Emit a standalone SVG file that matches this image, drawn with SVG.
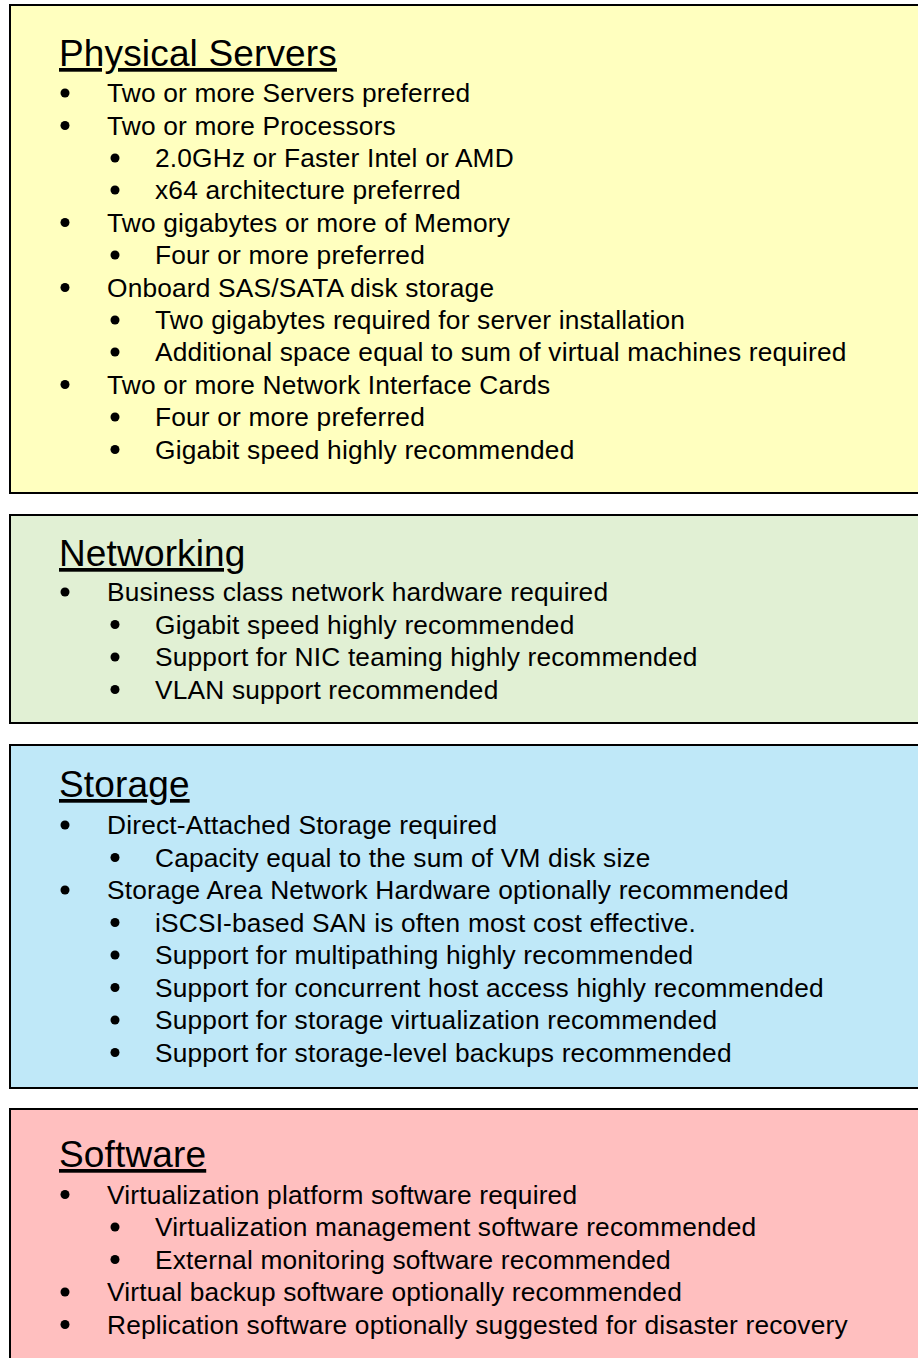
<svg xmlns="http://www.w3.org/2000/svg" width="918" height="1358" viewBox="0 0 918 1358">
<style>
.box{stroke:#000;stroke-width:2}
.h{font-family:"Liberation Sans",Arial,sans-serif;font-size:37px;letter-spacing:0.15px;fill:#000;text-decoration:underline}
.t{font-family:"Liberation Sans",Arial,sans-serif;font-size:26.3px;letter-spacing:0.18px;fill:#000}
.b{fill:#000}
</style>
<rect width="918" height="1358" fill="#fff"/>
<g id="physical-servers">
<rect class="box" x="10" y="5" width="930" height="488" fill="#FFFFBF"/>
<text class="h" x="59" y="66">Physical Servers</text>
<circle class="b" cx="65" cy="93" r="4.5"/><text class="t" x="107" y="102">Two or more Servers preferred</text>
<circle class="b" cx="65" cy="125.5" r="4.5"/><text class="t" x="107" y="134.5">Two or more Processors</text>
<circle class="b" cx="115" cy="158" r="4.5"/><text class="t" x="155" y="167">2.0GHz or Faster Intel or AMD</text>
<circle class="b" cx="115" cy="190" r="4.5"/><text class="t" x="155" y="199">x64 architecture preferred</text>
<circle class="b" cx="65" cy="222.5" r="4.5"/><text class="t" x="107" y="231.5">Two gigabytes or more of Memory</text>
<circle class="b" cx="115" cy="255" r="4.5"/><text class="t" x="155" y="264">Four or more preferred</text>
<circle class="b" cx="65" cy="287.5" r="4.5"/><text class="t" x="107" y="296.5">Onboard SAS/SATA disk storage</text>
<circle class="b" cx="115" cy="320" r="4.5"/><text class="t" x="155" y="329">Two gigabytes required for server installation</text>
<circle class="b" cx="115" cy="352" r="4.5"/><text class="t" x="155" y="361">Additional space equal to sum of virtual machines required</text>
<circle class="b" cx="65" cy="384.5" r="4.5"/><text class="t" x="107" y="393.5">Two or more Network Interface Cards</text>
<circle class="b" cx="115" cy="417" r="4.5"/><text class="t" x="155" y="426">Four or more preferred</text>
<circle class="b" cx="115" cy="449.5" r="4.5"/><text class="t" x="155" y="458.5">Gigabit speed highly recommended</text>
</g>
<g id="networking">
<rect class="box" x="10" y="515" width="930" height="208" fill="#E1F0D4"/>
<text class="h" x="59" y="566">Networking</text>
<circle class="b" cx="65" cy="592" r="4.5"/><text class="t" x="107" y="601">Business class network hardware required</text>
<circle class="b" cx="115" cy="624.5" r="4.5"/><text class="t" x="155" y="633.5">Gigabit speed highly recommended</text>
<circle class="b" cx="115" cy="657" r="4.5"/><text class="t" x="155" y="666">Support for NIC teaming highly recommended</text>
<circle class="b" cx="115" cy="689.5" r="4.5"/><text class="t" x="155" y="698.5">VLAN support recommended</text>
</g>
<g id="storage">
<rect class="box" x="10" y="745" width="930" height="343" fill="#BFE8F8"/>
<text class="h" x="59" y="797">Storage</text>
<circle class="b" cx="65" cy="825" r="4.5"/><text class="t" x="107" y="834">Direct-Attached Storage required</text>
<circle class="b" cx="115" cy="857.5" r="4.5"/><text class="t" x="155" y="866.5">Capacity equal to the sum of VM disk size</text>
<circle class="b" cx="65" cy="890" r="4.5"/><text class="t" x="107" y="899">Storage Area Network Hardware optionally recommended</text>
<circle class="b" cx="115" cy="922.5" r="4.5"/><text class="t" x="155" y="931.5">iSCSI-based SAN is often most cost effective.</text>
<circle class="b" cx="115" cy="955" r="4.5"/><text class="t" x="155" y="964">Support for multipathing highly recommended</text>
<circle class="b" cx="115" cy="987.5" r="4.5"/><text class="t" x="155" y="996.5">Support for concurrent host access highly recommended</text>
<circle class="b" cx="115" cy="1020" r="4.5"/><text class="t" x="155" y="1029">Support for storage virtualization recommended</text>
<circle class="b" cx="115" cy="1052.5" r="4.5"/><text class="t" x="155" y="1061.5">Support for storage-level backups recommended</text>
</g>
<g id="software">
<rect class="box" x="10" y="1109" width="930" height="270" fill="#FFBFBF"/>
<text class="h" x="59" y="1167">Software</text>
<circle class="b" cx="65" cy="1194.5" r="4.5"/><text class="t" x="107" y="1203.5">Virtualization platform software required</text>
<circle class="b" cx="115" cy="1227" r="4.5"/><text class="t" x="155" y="1236">Virtualization management software recommended</text>
<circle class="b" cx="115" cy="1259.5" r="4.5"/><text class="t" x="155" y="1268.5">External monitoring software recommended</text>
<circle class="b" cx="65" cy="1292" r="4.5"/><text class="t" x="107" y="1301">Virtual backup software optionally recommended</text>
<circle class="b" cx="65" cy="1324.5" r="4.5"/><text class="t" x="107" y="1333.5">Replication software optionally suggested for disaster recovery</text>
</g>
<g id="connectors"/>
</svg>
